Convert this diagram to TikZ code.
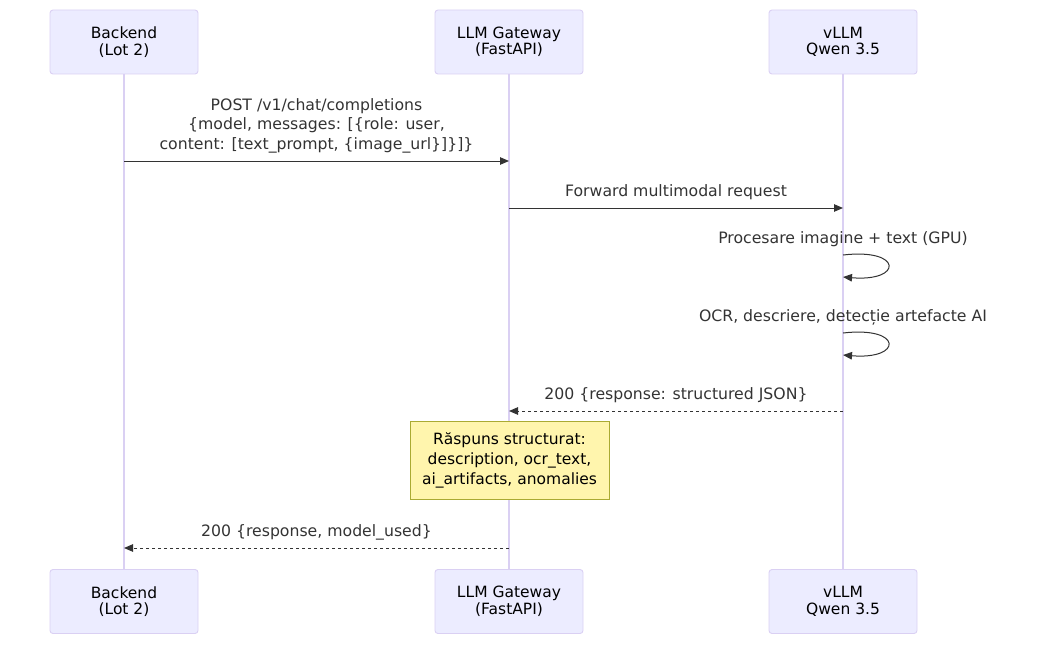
\documentclass[tikz,border=0pt]{standalone}
\usepackage{fontspec}
\setmainfont{DejaVu Sans}
\usetikzlibrary{positioning,arrows.meta}
\definecolor{actfill}{HTML}{ECECFF}
\definecolor{actline}{HTML}{DAD0F3}
\definecolor{txt}{HTML}{333333}
\definecolor{notefill}{HTML}{FFF5AD}
\definecolor{noteline}{HTML}{AAAA33}

\begin{document}
\begin{tikzpicture}[x=1pt,y=-1pt,font=\fontsize{15.5}{16.5}\selectfont,
  actor/.style={draw=actline,fill=actfill,line width=0.9pt,rounded corners=3pt,align=center,minimum width=148pt,minimum height=64pt,inner sep=0pt},
  life/.style={draw=actline,line width=1.3pt},
  msg/.style={draw=txt,line width=1pt,-{Triangle[length=9pt,width=7.5pt]}},
  rsp/.style={msg,dash pattern=on 3pt off 3pt},
  lbl/.style={text=txt,align=center,inner sep=0pt,font=\fontsize{15.7}{19.5}\selectfont},
  notebox/.style={draw=noteline,fill=notefill,line width=0.8pt,align=center,minimum width=199pt,minimum height=78pt,inner sep=0pt,text=black,font=\fontsize{15.5}{20}\selectfont}]
  \useasboundingbox (0,0) rectangle (1048,650);
  % participants
  \node[actor] (bkT) at (124,42) {Backend\\(Lot 2)};
  \node[actor] (gwT) at (509,42) {LLM Gateway\\(FastAPI)};
  \node[actor] (vlT) at (843,42) {vLLM\\Qwen 3.5};
  \node[actor] (bkB) at (124,601.5) {Backend\\(Lot 2)};
  \node[actor] (gwB) at (509,601.5) {LLM Gateway\\(FastAPI)};
  \node[actor] (vlB) at (843,601.5) {vLLM\\Qwen 3.5};
  \draw[life] (bkT) -- (bkB);
  \draw[life] (gwT) -- (gwB);
  \draw[life] (vlT) -- (vlB);
  % message rows
  \coordinate (m1) at (0,161);
  \coordinate (m2) at (0,208);
  \coordinate (s1a) at (0,255);
  \coordinate (s1b) at (0,277);
  \coordinate (s2a) at (0,333);
  \coordinate (s2b) at (0,355);
  \coordinate (r1) at (0,411);
  \coordinate (r2) at (0,548);
  \draw[msg] (bkT |- m1) -- node[lbl,above=7.5pt]{POST /v1/chat/completions\\\{model, messages: [\{role: user,\\content: [text\_prompt, \{image\_url\}]\}]\}} (gwT |- m1);
  \draw[msg] (gwT |- m2) -- node[lbl,above=7.5pt]{Forward multimodal request} (vlT |- m2);
  \draw[msg] (vlT |- s1a) node[lbl,above=7.5pt]{Procesare imagine + text (GPU)} .. controls +(60,-7) and +(60,5) .. (vlT |- s1b);
  \draw[msg] (vlT |- s2a) node[lbl,above=7.5pt]{OCR, descriere, detecție artefacte AI} .. controls +(60,-7) and +(60,5) .. (vlT |- s2b);
  \draw[rsp] (vlT |- r1) -- node[lbl,above=7.5pt]{200 \{response: structured JSON\}} (gwT |- r1);
  \node[notebox] (note) at (509.5,460.5) {Răspuns structurat:\\description, ocr\_text,\\ai\_artifacts, anomalies};
  \draw[rsp] (gwT |- r2) -- node[lbl,above=7.5pt]{200 \{response, model\_used\}} (bkT |- r2);
\end{tikzpicture}
\end{document}
